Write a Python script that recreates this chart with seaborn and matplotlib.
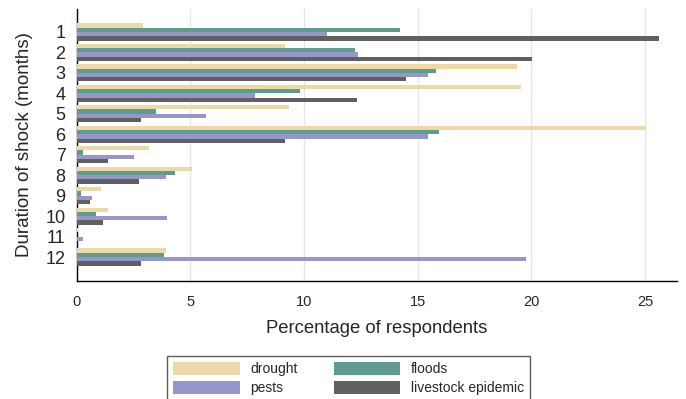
import matplotlib
matplotlib.use('Agg')
import matplotlib.pyplot as plt
import seaborn as sns
import pandas as pd
from matplotlib.patches import Patch

# czas trwania szoku (miesiace)
months = ['1', '2', '3', '4', '5', '6', '7', '8', '9', '10', '11', '12']
drought = [2.90, 9.15, 19.37, 19.56, 9.34, 25.04, 3.16, 5.05, 1.05, 1.36, 0.09, 3.91]
floods = [14.24, 12.26, 15.81, 9.81, 3.50, 15.94, 0.29, 4.32, 0.20, 0.83, 0.0, 3.84]
pests = [11.02, 12.35, 15.47, 7.86, 5.68, 15.47, 2.53, 3.91, 0.67, 3.98, 0.26, 19.78]
livestock = [25.59, 20.04, 14.46, 12.31, 2.81, 9.18, 1.39, 2.75, 0.59, 1.16, 0.0, 2.81]

shocks = ['drought', 'floods', 'pests', 'livestock epidemic']
colors = ['#ECD9A6', '#5F9C8F', '#9696C9', '#606060']

dane = pd.DataFrame({
    'months': months * 4,
    'shock': [s for s in shocks for _ in months],
    'pct': drought + floods + pests + livestock,
})

sns.set_style('white')
plt.rcParams['font.family'] = ['Liberation Sans', 'DejaVu Sans']

fig = plt.figure(figsize=(6.86, 3.99), dpi=100)
ax = fig.add_axes([76.7 / 686, 1 - 281 / 399, (677 - 76.7) / 686, (281 - 9) / 399])

sns.barplot(data=dane, x='pct', y='months', hue='shock', order=months, hue_order=shocks,
            palette=colors, saturation=1, width=0.84, linewidth=0, orient='h', ax=ax, zorder=3)

ax.set_xlim(0, 26.4)
ax.set_ylim(12.17, -1.12)
ax.set_xticks([0, 5, 10, 15, 20, 25])
for v in [5, 10, 15, 20, 25]:
    ax.axvline(v, color='#E6E6E6', lw=1, zorder=0)

for s in ['top', 'right']:
    ax.spines[s].set_visible(False)
for s in ['left', 'bottom']:
    ax.spines[s].set_color('black')
    ax.spines[s].set_linewidth(1)

ax.tick_params(axis='x', length=4, width=1, color='black', direction='out', pad=6, labelsize=10.5)
ax.tick_params(axis='y', length=0, pad=8, labelsize=13)
ax.set_xlabel('Percentage of respondents', fontsize=13.3, labelpad=8)
ax.set_ylabel('Duration of shock (months)', fontsize=13.5, labelpad=9)

ax.get_legend().remove()
# kolejnosc wierszami: drought, floods / pests, livestock
kolejnosc = [0, 2, 1, 3]
uchwyty = [Patch(facecolor=colors[i], edgecolor='none') for i in kolejnosc]
etykiety = [shocks[i] for i in kolejnosc]
fig.legend(uchwyty, etykiety, ncol=2, loc='upper left', bbox_to_anchor=(167 / 686, 1 - 356 / 399),
           frameon=True, fancybox=False, edgecolor='#333333', fontsize=10,
           handlelength=4.8, handleheight=1.0, handletextpad=0.75, columnspacing=2.6,
           borderpad=0.45, labelspacing=0.35, borderaxespad=0)

fig.savefig('out.png', dpi=100)
